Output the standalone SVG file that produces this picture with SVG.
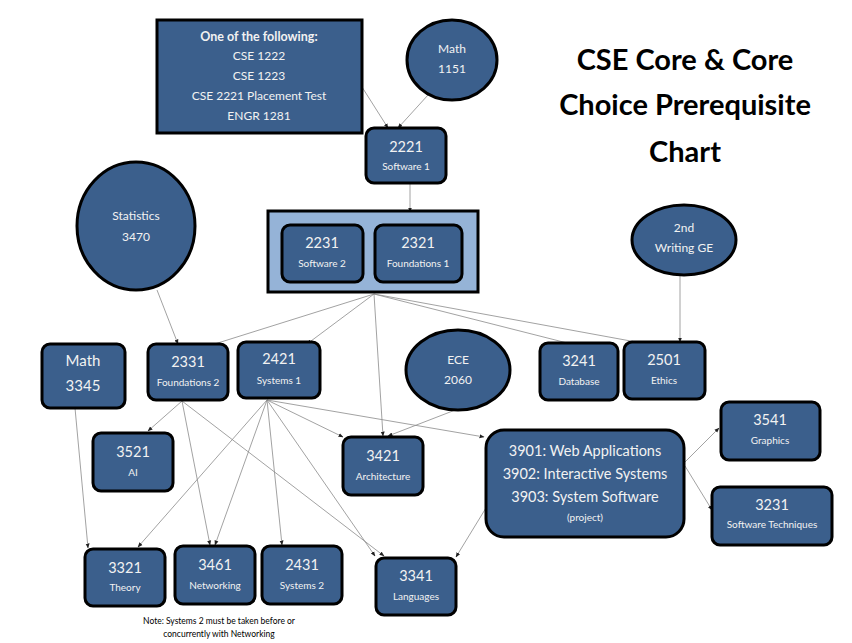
<svg xmlns="http://www.w3.org/2000/svg" width="852" height="643" viewBox="0 0 852 643">
<defs>
<style>
.n{fill:#3b5f8c;stroke:#000;stroke-width:3}
.o{fill:#95b3d7;stroke:#000;stroke-width:3}
text{font-family:Lato,"Noto Sans",sans-serif;fill:#f2f2f2;text-anchor:middle}
.b{font-size:14.5px}
.s{font-size:10px}
.m{font-size:12px}
.t{font-family:Lato,"Noto Sans",sans-serif;font-weight:bold;font-size:29px;fill:#000}
.note{font-size:8.5px;fill:#000}
.c path{fill:none;stroke:#8a8a8a;stroke-width:0.8;marker-end:url(#a)}
</style>
<marker id="a" viewBox="0 0 10 10" refX="9" refY="5" markerWidth="5" markerHeight="5" orient="auto" markerUnits="userSpaceOnUse">
<path d="M0,1 L10,5 L0,9 z" fill="#222"/>
</marker>
</defs>
<rect width="852" height="643" fill="#fff"/>

<g class="c" id="connectors">
<path d="M362,87 L388,128"/>
<path d="M428,95 L398,128"/>
<path d="M410,184 L410,212"/>
<path d="M374,294 L205,347"/>
<path d="M374,294 L307,344"/>
<path d="M374,294 L383,436"/>
<path d="M374,294 L579,346"/>
<path d="M374,294 L658,346"/>
<path d="M680,276 L680,342"/>
<path d="M157,290 L178,344"/>
<path d="M182,401 L148,431"/>
<path d="M182,401 L210,545"/>
<path d="M182,401 L384,556"/>
<path d="M267,400 L138,547"/>
<path d="M267,400 L215,545"/>
<path d="M267,400 L282,545"/>
<path d="M267,400 L343,437"/>
<path d="M267,400 L375,556"/>
<path d="M267,400 L484,437"/>
<path d="M463,407 L388,436"/>
<path d="M75,408 L88,548"/>
<path d="M489,503 L456,557"/>
<path d="M685,462 L719,428"/>
<path d="M685,466 L712,510"/>
</g>

<g id="title">
<text class="t" x="685" y="70">CSE Core &amp; Core</text>
<text class="t" x="685" y="115">Choice Prerequisite</text>
<text class="t" x="685" y="162">Chart</text>
</g>

<g id="prereq">
<rect class="n" x="157" y="20" width="205" height="113"/>
<text x="259" y="41" style="font-size:12.5px;font-weight:bold">One of the following:</text>
<text x="259" y="60" class="m">CSE 1222</text>
<text x="259" y="80" class="m">CSE 1223</text>
<text x="259" y="100" class="m">CSE 2221 Placement Test</text>
<text x="259" y="120" class="m">ENGR 1281</text>
</g>

<g id="math1151">
<ellipse class="n" cx="452" cy="60" rx="45" ry="40"/>
<text x="452" y="53" class="m">Math</text>
<text x="452" y="73" class="m">1151</text>
</g>

<g id="n2221">
<rect class="n" x="366" y="128" width="80" height="55" rx="8"/>
<text x="406" y="152" class="b">2221</text>
<text x="406" y="170" class="s">Software 1</text>
</g>

<g id="group2231">
<rect class="o" x="268" y="211" width="210" height="81"/>
<g id="n2231">
<rect class="n" x="282" y="225" width="81" height="57" rx="8"/>
<text x="322" y="248" class="b">2231</text>
<text x="322" y="267" class="s">Software 2</text>
</g>
<g id="n2321">
<rect class="n" x="375" y="225" width="87" height="57" rx="8"/>
<text x="418" y="248" class="b">2321</text>
<text x="418" y="267" class="s">Foundations 1</text>
</g>
</g>

<g id="stats">
<ellipse class="n" cx="136" cy="226" rx="59" ry="64"/>
<text x="136" y="220" class="m">Statistics</text>
<text x="136" y="241" class="m">3470</text>
</g>

<g id="writing">
<ellipse class="n" cx="684" cy="240" rx="52" ry="35"/>
<text x="684" y="232" class="m">2nd</text>
<text x="684" y="252" class="m">Writing GE</text>
</g>

<g id="math3345">
<rect class="n" x="42" y="344" width="83" height="64" rx="8"/>
<text x="83" y="366" style="font-size:15px">Math</text>
<text x="83" y="391" style="font-size:15px">3345</text>
</g>

<g id="n2331">
<rect class="n" x="148" y="344" width="80" height="56" rx="8"/>
<text x="188" y="367" class="b">2331</text>
<text x="188" y="386" class="s">Foundations 2</text>
</g>

<g id="n2421">
<rect class="n" x="238" y="342" width="82" height="56" rx="8"/>
<text x="279" y="364" class="b">2421</text>
<text x="279" y="384" class="s">Systems 1</text>
</g>

<g id="ece2060">
<ellipse class="n" cx="458" cy="370" rx="52" ry="40"/>
<text x="458" y="364" class="m">ECE</text>
<text x="458" y="384" class="m">2060</text>
</g>

<g id="n3241">
<rect class="n" x="540" y="343" width="78" height="57" rx="8"/>
<text x="579" y="366" class="b">3241</text>
<text x="579" y="385" class="s">Database</text>
</g>

<g id="n2501">
<rect class="n" x="624" y="342" width="81" height="57" rx="8"/>
<text x="664" y="365" class="b">2501</text>
<text x="664" y="384" class="s">Ethics</text>
</g>

<g id="n3521">
<rect class="n" x="93" y="433" width="80" height="58" rx="8"/>
<text x="133" y="457" class="b">3521</text>
<text x="133" y="476" class="s">AI</text>
</g>

<g id="n3421">
<rect class="n" x="343" y="437" width="80" height="58" rx="8"/>
<text x="383" y="461" class="b">3421</text>
<text x="383" y="480" class="s">Architecture</text>
</g>

<g id="n3901">
<rect class="n" x="486" y="430" width="198" height="107" rx="18"/>
<text x="585" y="456" style="font-size:14.5px">3901: Web Applications</text>
<text x="585" y="479" style="font-size:14.5px">3902: Interactive Systems</text>
<text x="585" y="502" style="font-size:14.5px">3903: System Software</text>
<text x="585" y="521" class="s">(project)</text>
</g>

<g id="n3541">
<rect class="n" x="721" y="402" width="99" height="58" rx="8"/>
<text x="770" y="425" class="b">3541</text>
<text x="770" y="444" class="s">Graphics</text>
</g>

<g id="n3231">
<rect class="n" x="712" y="487" width="120" height="58" rx="8"/>
<text x="772" y="510" class="b">3231</text>
<text x="772" y="528" class="s">Software Techniques</text>
</g>

<g id="n3321">
<rect class="n" x="85" y="549" width="80" height="57" rx="8"/>
<text x="125" y="573" class="b">3321</text>
<text x="125" y="591" class="s">Theory</text>
</g>

<g id="n3461">
<rect class="n" x="175" y="546" width="80" height="58" rx="8"/>
<text x="215" y="570" class="b">3461</text>
<text x="215" y="589" class="s">Networking</text>
</g>

<g id="n2431">
<rect class="n" x="262" y="546" width="80" height="58" rx="8"/>
<text x="302" y="570" class="b">2431</text>
<text x="302" y="589" class="s">Systems 2</text>
</g>

<g id="n3341">
<rect class="n" x="376" y="558" width="80" height="57" rx="8"/>
<text x="416" y="581" class="b">3341</text>
<text x="416" y="600" class="s">Languages</text>
</g>

<g id="note">
<text x="219" y="624" class="note">Note: Systems 2 must be taken before or</text>
<text x="219" y="637" class="note">concurrently with Networking</text>
</g>
</svg>
